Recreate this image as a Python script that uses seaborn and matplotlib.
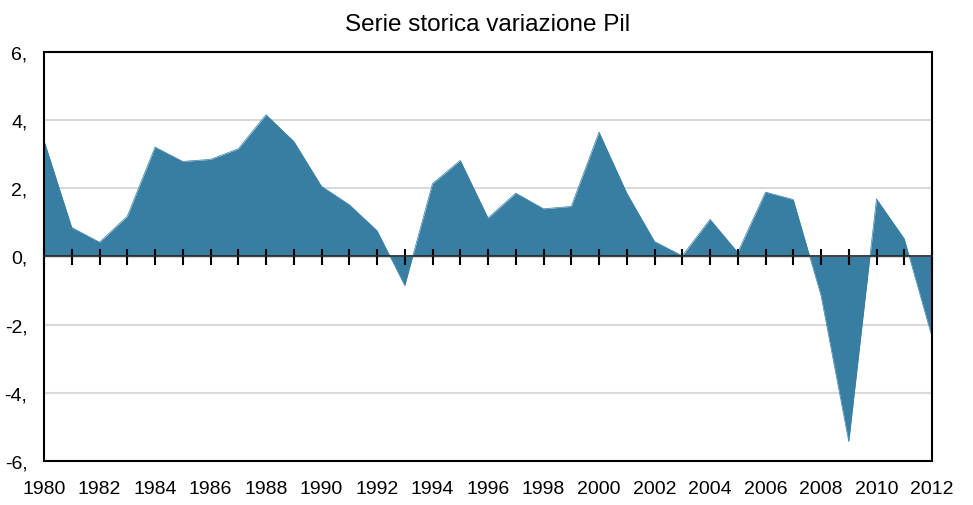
import matplotlib
matplotlib.use("Agg")
import matplotlib.pyplot as plt
import seaborn as sns
import pandas as pd

years = list(range(1980, 2013))
pil_var = [3.4, 0.85, 0.42, 1.18, 3.21, 2.79, 2.85, 3.16, 4.16, 3.38,
           2.06, 1.52, 0.76, -0.85, 2.14, 2.82, 1.13, 1.86, 1.40, 1.47,
           3.65, 1.86, 0.44, 0.02, 1.09, 0.12, 1.89, 1.67, -1.14, -5.43,
           1.69, 0.52, -2.36]
ytick_vals = [-6, -4, -2, 0, 2, 4, 6]
ytick_labels = ["-6,", "-4,", "-2,", "0,", "2,", "4,", "6,"]
xtick_years = list(range(1980, 2013, 2))
title = "Serie storica variazione Pil"

df = pd.DataFrame({"anno": years, "pil": pil_var})

sns.set_theme(style="white")
plt.rcParams['font.family'] = ['Liberation Sans', 'DejaVu Sans']
plt.rcParams['text.color'] = 'black'
plt.rcParams['xtick.color'] = 'black'
plt.rcParams['ytick.color'] = 'black'
plt.rcParams['axes.labelcolor'] = 'black'

color = "#377EA2"
fig = plt.figure(figsize=(9.73, 5.06), dpi=100)
ax = fig.add_axes([44/973, 44/506, (932-44)/973, (462-53)/506])

ax.fill_between(df["anno"], df["pil"], 0, color=color, linewidth=0, zorder=2)
sns.lineplot(data=df, x="anno", y="pil", color=color, linewidth=0.5, ax=ax, zorder=2)

ax.set_xlim(1980, 2012)
ax.set_ylim(-6, 6)
ax.set_xlabel("")
ax.set_ylabel("")

# gridlines and y labels
ax.set_yticks(ytick_vals)
ax.set_yticklabels(ytick_labels, fontsize=14, color="black")
ax.yaxis.grid(True, color="#d9d9d9", linewidth=1.5, zorder=0)
ax.set_axisbelow(True)
ax.tick_params(axis="y", length=0, pad=12)

# bottom year labels
ax.set_xticks(xtick_years)
ax.set_xticklabels([str(y) for y in xtick_years], fontsize=14, color="black")
ax.tick_params(axis="x", bottom=True, length=0, pad=14)

for s in ["left", "right", "top", "bottom"]:
    ax.spines[s].set_color("black")
    ax.spines[s].set_linewidth(1.5)

# zero line with yearly ticks, drawn on top of the fill
zero_ax = ax.secondary_xaxis(0.5)
zero_ax.set_zorder(10)
zero_ax.set_xticks(years)
zero_ax.tick_params(axis="x", bottom=True, top=False, direction="inout", length=12,
                    width=1.5, color="black", labelbottom=False, labeltop=False)
zero_ax.spines["bottom"].set_linewidth(1.5)
zero_ax.spines["bottom"].set_color("black")

ax.set_title(title, fontsize=17.5, pad=16, color="black")

fig.savefig("out.png", dpi=100)
